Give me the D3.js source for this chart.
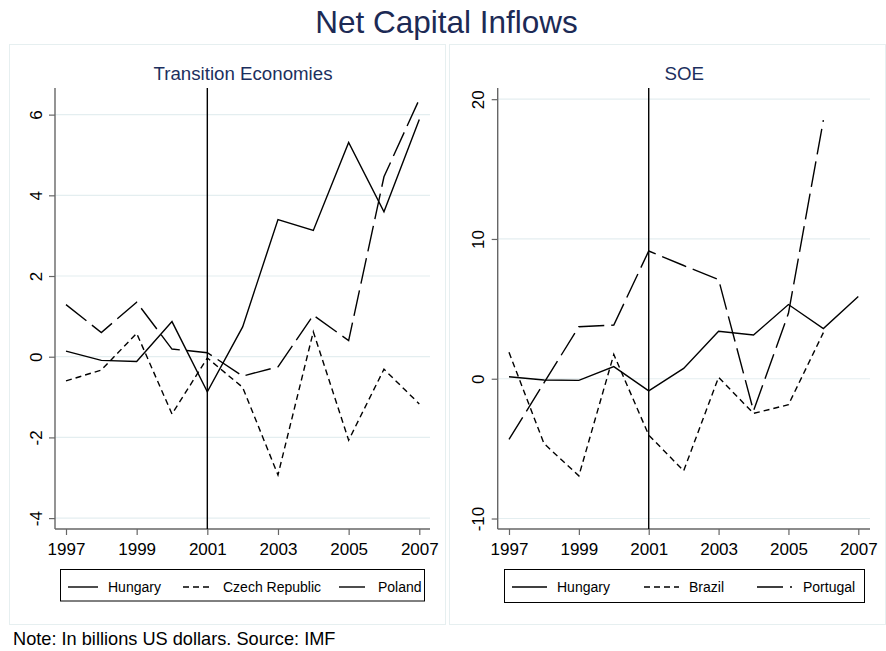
<!DOCTYPE html>
<html>
<head>
<meta charset="utf-8">
<script src="https://cdn.jsdelivr.net/npm/d3@7"></script>
<style>
  body { margin: 0; background: #fff; }
  svg { display: block; font-family: "Liberation Sans", Arial, Helvetica, sans-serif; }
</style>
</head>
<body>
<svg id="chart" width="886" height="651"></svg>
<script>
// ---------------- DATA ----------------
const years = [1997, 1998, 1999, 2000, 2001, 2002, 2003, 2004, 2005, 2006, 2007];

// Transition economies
const hungary = [0.14, -0.09, -0.12, 0.87, -0.87, 0.74, 3.40, 3.13, 5.31, 3.59, 5.88];
const czech = [-0.60, -0.33, 0.58, -1.42, -0.03, -0.76, -2.93, 0.62, -2.07, -0.31, -1.17];
const poland = [1.29, 0.60, 1.35, 0.19, 0.10, -0.48, -0.25, 1.03, 0.40, 4.46, 6.38];

// SOE
const brazil = [1.89, -4.63, -6.95, 1.74, -4.03, -6.59, 0.10, -2.48, -1.86, 3.30, null];
const portugal = [-4.34, -0.30, 3.72, 3.84, 9.14, 8.10, 7.10, -2.30, 4.68, 18.5, null];

const xTicks = [1997, 1999, 2001, 2003, 2005, 2007];
const leftYTicks = [-4, -2, 0, 2, 4, 6];
const rightYTicks = [-10, 0, 10, 20];
const breakYear = 2001;

// ---------------- STYLE ----------------
const solid = null;
const shortDash = '6,4';
const longDash = '26,7';

const panels = [
  {
    title: 'Transition Economies',
    frame: [9, 44, 446, 625],
    left: 55, right: 430, top: 88, bottom: 529,
    xRange: [66, 419.3],
    yDomain: [-4.27, 6.66],
    yTicks: leftYTicks,
    series: [
      { name: 'Hungary', values: hungary, dash: solid },
      { name: 'Czech Republic', values: czech, dash: shortDash },
      { name: 'Poland', values: poland, dash: longDash },
    ],
    legendBox: [60, 569, 424, 600.5],
    legendItems: [[68, 98, 108], [183, 212, 223], [339, 366, 378]],
  },
  {
    title: 'SOE',
    frame: [449, 44, 886, 625],
    left: 497.7, right: 870, top: 88, bottom: 529,
    xRange: [509, 858.3],
    yDomain: [-10.75, 20.8],
    yTicks: rightYTicks,
    series: [
      { name: 'Hungary', values: hungary, dash: solid },
      { name: 'Brazil', values: brazil, dash: shortDash },
      { name: 'Portugal', values: portugal, dash: longDash },
    ],
    legendBox: [504, 569, 864, 602],
    legendItems: [[512, 547, 557], [644, 679, 689], [757, 792, 803]],
  },
];

const svg = d3.select('#chart');

svg.append('rect').attr('width', 886).attr('height', 651).attr('fill', '#fff');

// Main title
svg.append('text')
  .attr('x', 446.5)
  .attr('y', 33)
  .attr('text-anchor', 'middle')
  .attr('font-size', 31.5)
  .attr('fill', '#1c2a55')
  .text('Net Capital Inflows');

// plain hyphen for negatives, like the original
const tickFmt = (d) => String(d);

// ---------------- PANELS ----------------
panels.forEach((p) => {
  const g = svg.append('g');
  const [fx0, fy0, fx1, fy1] = p.frame;

  // faint panel frame
  g.append('rect')
    .attr('x', fx0 + 0.5).attr('y', fy0 + 0.5)
    .attr('width', fx1 - fx0 - 1).attr('height', fy1 - fy0 - 1)
    .attr('fill', 'none')
    .attr('stroke', '#e6eff0');

  g.append('text')
    .attr('x', (p.left + p.right) / 2 + 0.5)
    .attr('y', 80)
    .attr('text-anchor', 'middle')
    .attr('font-size', 18.7)
    .attr('fill', '#1c2f5e')
    .text(p.title);

  const x = d3.scaleLinear().domain([years[0], years[years.length - 1]]).range(p.xRange);
  const y = d3.scaleLinear().domain(p.yDomain).range([p.bottom, p.top]);

  // gridlines
  g.append('g')
    .selectAll('line')
    .data(p.yTicks)
    .join('line')
    .attr('x1', p.left).attr('x2', p.right)
    .attr('y1', (d) => y(d)).attr('y2', (d) => y(d))
    .attr('stroke', '#e4eef0')
    .attr('stroke-width', 1.2);

  // y axis
  const yAxis = g.append('g')
    .attr('transform', `translate(${p.left},0)`)
    .call(d3.axisLeft(y).tickValues(p.yTicks).tickSize(6).tickSizeOuter(0).tickFormat(tickFmt));
  yAxis.select('.domain').remove();
  yAxis.selectAll('.tick line').attr('stroke', '#666').attr('stroke-width', 1.2);
  yAxis.selectAll('.tick text')
    .attr('transform', 'rotate(-90)')
    .attr('x', 0)
    .attr('y', -13.3)
    .attr('dy', null)
    .attr('text-anchor', 'middle')
    .attr('font-size', 17)
    .attr('font-family', null)
    .attr('fill', '#000');
  g.append('line')
    .attr('x1', p.left).attr('x2', p.left)
    .attr('y1', p.top).attr('y2', p.bottom)
    .attr('stroke', '#666').attr('stroke-width', 1.4);

  // x axis
  const xAxis = g.append('g')
    .attr('transform', `translate(0,${p.bottom})`)
    .call(d3.axisBottom(x).tickValues(xTicks).tickSize(6).tickSizeOuter(0).tickFormat(tickFmt));
  xAxis.select('.domain').remove();
  xAxis.selectAll('.tick line').attr('stroke', '#666').attr('stroke-width', 1.2);
  xAxis.selectAll('.tick text')
    .attr('y', 26)
    .attr('dy', null)
    .attr('font-size', 17)
    .attr('font-family', null)
    .attr('fill', '#000');
  g.append('line')
    .attr('x1', p.left).attr('x2', p.right)
    .attr('y1', p.bottom).attr('y2', p.bottom)
    .attr('stroke', '#666').attr('stroke-width', 1.4);

  // vertical marker at 2001
  g.append('line')
    .attr('x1', x(breakYear)).attr('x2', x(breakYear))
    .attr('y1', p.top).attr('y2', p.bottom)
    .attr('stroke', '#000').attr('stroke-width', 1.4);

  // series lines
  const line = d3.line()
    .defined((d) => d != null)
    .x((d, i) => x(years[i]))
    .y((d) => y(d));

  p.series.forEach((s) => {
    g.append('path')
      .datum(s.values)
      .attr('d', line)
      .attr('fill', 'none')
      .attr('stroke', '#000')
      .attr('stroke-width', 1.4)
      .attr('stroke-linejoin', 'miter')
      .attr('stroke-dasharray', s.dash);
  });

  // legend
  const [lx0, ly0, lx1, ly1] = p.legendBox;
  g.append('rect')
    .attr('x', lx0 + 0.5).attr('y', ly0 + 0.5)
    .attr('width', lx1 - lx0).attr('height', ly1 - ly0)
    .attr('fill', '#fff')
    .attr('stroke', '#000')
    .attr('stroke-width', 1);

  p.series.forEach((s, i) => {
    const [sx0, sx1, tx] = p.legendItems[i];
    g.append('line')
      .attr('x1', sx0).attr('x2', sx1)
      .attr('y1', 587).attr('y2', 587)
      .attr('stroke', '#000')
      .attr('stroke-width', 1.4)
      .attr('stroke-dasharray', s.dash);
    g.append('text')
      .attr('x', tx)
      .attr('y', 591.5)
      .attr('font-size', 14)
      .attr('fill', '#000')
      .text(s.name);
  });
});

// footnote
svg.append('text')
  .attr('x', 13)
  .attr('y', 645)
  .attr('font-size', 18.2)
  .attr('fill', '#000')
  .text('Note: In billions US dollars. Source: IMF');
</script>
</body>
</html>
